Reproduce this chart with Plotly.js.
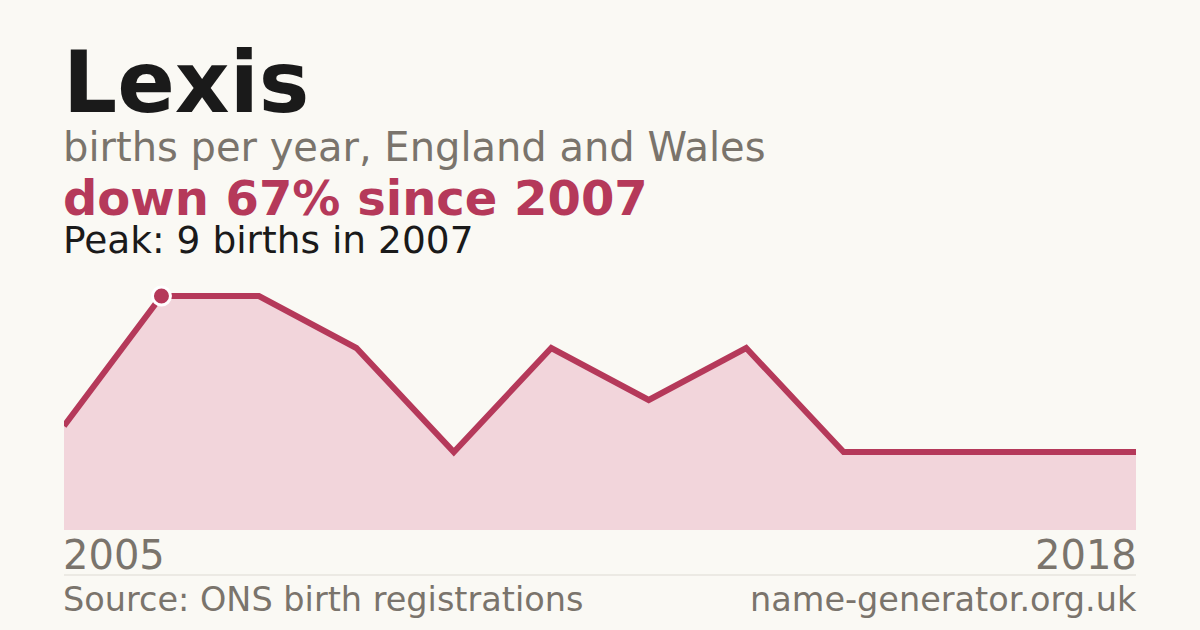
<!DOCTYPE html>
<html>
<head>
<meta charset="utf-8">
<script src="https://cdn.plot.ly/plotly-3.0.1.min.js"></script>
<style>html,body{margin:0;padding:0;background:#faf9f4;}#chart{width:1200px;height:630px;}</style>
</head>
<body>
<div id="chart"></div>
<script>
const years = [2005, 2007, 2008, 2009, 2010, 2011, 2012, 2013, 2014, 2015, 2016, 2018];
const births = [4, 9, 9, 7, 3, 7, 5, 7, 3, 3, 3, 3];
const peakIndex = 1;
const firstLabel = "2005";
const lastLabel = "2018";

const idx = years.map((_, i) => i);
const RED = '#b5395a';
const GRAY = '#7a746c';
const FONT = 'DejaVu Sans, sans-serif';

const T = 280, B = 100, H = 630;
const bottomPx = H - B;
const plotH = H - T - B;
function py(px){ return (bottomPx - px) / plotH; }

const traces = [
  {
    x: idx, y: births, type: 'scatter', mode: 'lines',
    fill: 'tozeroy', fillcolor: '#f2d5db',
    line: {color: RED, width: 6, shape: 'linear'},
    hoverinfo: 'skip', cliponaxis: false
  },
  {
    x: [idx[peakIndex]], y: [births[peakIndex]], type: 'scatter', mode: 'markers',
    marker: {size: 18, color: RED, line: {color: '#ffffff', width: 3}},
    hoverinfo: 'skip', cliponaxis: false
  }
];

const annotations = [
  {text: '<b>Lexis</b>', x: 0, xshift: -2, y: py(82), font: {size: 85, color: '#1a1a1a', family: FONT}},
  {text: 'births per year, England and Wales', x: 0, xshift: -2, y: py(147), font: {size: 40, color: GRAY, family: FONT}},
  {text: '<b>down 67% since ' + years[peakIndex] + '</b>', x: 0, xshift: -2, y: py(198), font: {size: 48, color: RED, family: FONT}},
  {text: 'Peak: ' + births[peakIndex] + ' births in ' + years[peakIndex], x: 0, xshift: -2, y: py(240), font: {size: 37.5, color: '#1a1a1a', family: FONT}},
  {text: firstLabel, x: 0, xshift: -2, y: py(555), font: {size: 40, color: GRAY, family: FONT}},
  {text: lastLabel, x: 1, xshift: 2, xanchor: 'right', y: py(555), font: {size: 40, color: GRAY, family: FONT}},
  {text: 'Source: ONS birth registrations', x: 0, xshift: -2, y: py(599), font: {size: 33.5, color: GRAY, family: FONT}},
  {text: 'name-generator.org.uk', x: 1, xshift: 2, xanchor: 'right', y: py(599), font: {size: 33.5, color: GRAY, family: FONT}}
].map(a => Object.assign({xref: 'paper', yref: 'paper', xanchor: 'left', yanchor: 'middle', showarrow: false, borderpad: 0}, a));

const layout = {
  width: 1200, height: 630,
  paper_bgcolor: '#faf9f4', plot_bgcolor: '#faf9f4',
  margin: {l: 64, r: 64, t: T, b: B},
  showlegend: false,
  xaxis: {range: [0, idx.length - 1], visible: false, fixedrange: true},
  yaxis: {range: [0, plotH / 26], visible: false, fixedrange: true},
  annotations: annotations,
  shapes: [{type: 'line', xref: 'paper', yref: 'paper', x0: 0, x1: 1, y0: py(575), y1: py(575), line: {color: '#dddad3', width: 1}}]
};

Plotly.newPlot('chart', traces, layout, {displayModeBar: false, staticPlot: true});
</script>
</body>
</html>
